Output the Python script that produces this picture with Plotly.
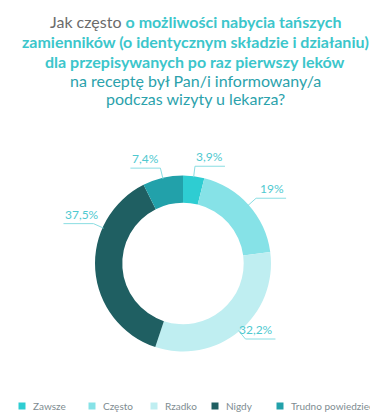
import math
import plotly.graph_objects as go

# ---- data ----
categories = ["Zawsze", "Często", "Rzadko", "Nigdy", "Trudno powiedzieć"]
values = [3.9, 19.0, 32.2, 37.5, 7.4]
value_labels = ["3,9%", "19%", "32,2%", "37,5%", "7,4%"]
colors = ["#2ECDD2", "#86E2E7", "#BFEEF1", "#1F5F62", "#22A1AA"]
title_lines = [
    "Jak często |o możliwości nabycia tańszych",
    "zamienników (o identycznym składzie i działaniu)",
    "dla przepisywanych po raz pierwszy leków",
    "na receptę był Pan/i informowany/a",
    "podczas wizyty u lekarza?",
]

W, H = 378, 418
# pie geometry (pixels)
CX, CY, R = 175, 255.5, 88

fig = go.Figure(go.Pie(
    labels=categories, values=values, sort=False, direction="clockwise",
    rotation=0, hole=0.69, textinfo="none", hoverinfo="label+percent",
    marker=dict(colors=colors, line=dict(width=0)),
    domain=dict(x=[(CX - R) / W, (CX + R) / W], y=[1 - (CY + R) / H, 1 - (CY - R) / H]),
    showlegend=False,
))

# leader-line label placement (style: anchor angle override for large slice)
angle_override = {"Nigdy": 294.0}
total = sum(values)
cum = 0.0
shapes, annots = [], []
for cat, v, lab in zip(categories, values, value_labels):
    mid = (cum + v / 2) / total * 360.0
    cum += v
    ang = angle_override.get(cat, mid)
    a = math.radians(ang)
    sx, sy = math.sin(a), -math.cos(a)
    p0 = (CX + (R - 1) * sx, CY + (R - 1) * sy)
    right = sx >= 0
    p1 = (CX + (R + 10) * sx, CY + (R + 10) * sy)
    seg = 30
    p2 = (p1[0] + (seg if right else -seg), p1[1])
    path = "M {},{} L {},{} L {},{}".format(
        p0[0] / W, 1 - p0[1] / H, p1[0] / W, 1 - p1[1] / H, p2[0] / W, 1 - p2[1] / H)
    shapes.append(dict(type="path", xref="paper", yref="paper", path=path,
                       line=dict(color="#8ADDE2", width=1)))
    annots.append(dict(x=p2[0] / W, y=1 - p1[1] / H, xref="paper", yref="paper",
                       text=lab, showarrow=False, yshift=0,
                       xanchor="right" if right else "left", yanchor="bottom",
                       font=dict(family="Lato", size=12, color="#4FC9D0")))

# title lines
gray = "#6B6B6B"
cyan = "#3CC6CB"
teal = "#2BA2AC"
line_y = [14, 33, 53, 72, 90]
for i, (txt, yy) in enumerate(zip(title_lines, line_y)):
    if i == 0:
        a, b = txt.split("|")
        t = f"<span style='color:{gray}'>{a}</span><b><span style='color:{cyan}'>{b}</span></b>"
    elif i < 3:
        t = f"<b><span style='color:{cyan}'>{txt}</span></b>"
    else:
        t = f"<span style='color:{teal}'>{txt}</span>"
    annots.append(dict(x=0.495, y=1 - yy / H, xref="paper", yref="paper", text=t,
                       showarrow=False, xanchor="center", yanchor="middle",
                       font=dict(family="Lato", size=16, color=teal)))

# legend (manual, compact like reference)
leg_marker_x = [14, 84, 146, 207, 272]
LEG_Y = 398
for cat, col, mx in zip(categories, colors, leg_marker_x):
    shapes.append(dict(type="rect", xref="paper", yref="paper",
                       x0=(mx - 3.5) / W, x1=(mx + 3.5) / W,
                       y0=1 - (LEG_Y + 3.5) / H, y1=1 - (LEG_Y - 3.5) / H,
                       fillcolor=col, line=dict(width=0)))
    annots.append(dict(x=(mx + 10) / W, y=1 - LEG_Y / H, xref="paper", yref="paper",
                       text=cat, showarrow=False, xanchor="left", yanchor="middle",
                       borderpad=0,
                       font=dict(family="Lato", size=10, color="#7E8C91")))

fig.update_layout(
    width=W, height=H, margin=dict(l=0, r=0, t=0, b=0),
    paper_bgcolor="white", plot_bgcolor="white",
    shapes=shapes, annotations=annots,
    showlegend=False,
)

fig.write_html("out.html")
